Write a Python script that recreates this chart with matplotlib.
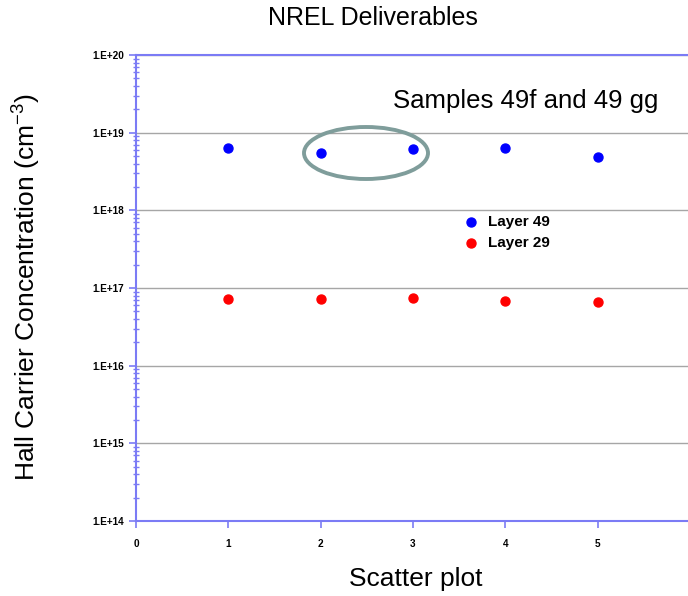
import numpy as np
import matplotlib.pyplot as plt
from matplotlib.patches import Ellipse
from matplotlib.ticker import LogLocator

plt.rcParams['font.family'] = ['Liberation Sans', 'DejaVu Sans']
plt.rcParams['mathtext.fontset'] = 'custom'
plt.rcParams['mathtext.rm'] = 'Liberation Sans'
plt.rcParams['mathtext.default'] = 'regular'

samples = [1, 2, 3, 4, 5]
layer49 = [6.4e18, 5.4e18, 6.2e18, 6.4e18, 4.9e18]
layer29 = [7.2e16, 7.2e16, 7.4e16, 6.8e16, 6.6e16]
ytick_vals = [1e14, 1e15, 1e16, 1e17, 1e18, 1e19, 1e20]
ytick_labels = ['1.E+14', '1.E+15', '1.E+16', '1.E+17', '1.E+18', '1.E+19', '1.E+20']

W, H = 688, 596
fig = plt.figure(figsize=(6.88, 5.96), dpi=100)
ax = fig.add_axes([136/W, 75/H, 554/W, 466/H])

spine_c = '#7b7bf5'
ax.set_yscale('log')
ax.set_ylim(1e14, 1e20)
ax.set_xlim(0, 6)
ax.yaxis.grid(True, which='major', color='#a6a6a6', lw=1.0)
ax.set_axisbelow(True)

ax.scatter(samples, layer49, s=42, color='#0000ff', zorder=3, label='Layer 49')
ax.scatter(samples, layer29, s=42, color='#ff0000', zorder=3, label='Layer 29')

ax.set_yticks(ytick_vals)
ax.set_yticklabels(ytick_labels)
ax.yaxis.set_minor_locator(LogLocator(base=10, subs=np.arange(2, 10)))
ax.yaxis.set_minor_formatter(plt.NullFormatter())
ax.set_xticks(range(7))

for s in ['top', 'right']:
    ax.spines[s].set_visible(False)
for s in ['left', 'bottom']:
    ax.spines[s].set_color(spine_c)
    ax.spines[s].set_linewidth(1.5)
ax.tick_params(axis='both', which='major', colors=spine_c, direction='out', length=5, width=1.2,
               labelsize=7.2, labelcolor='#000000')
ax.tick_params(axis='y', which='minor', colors=spine_c, direction='inout', length=4, width=1)
for lab in ax.get_xticklabels() + ax.get_yticklabels():
    lab.set_fontweight('bold')
ax.tick_params(axis='x', pad=8)

# top border line
ax.plot([0, 6], [1e20, 1e20], color=spine_c, lw=1.5, clip_on=False, zorder=4)

fig.text(373/W, 1 - 18/H, 'NREL Deliverables', ha='center', va='center', fontsize=18)
fig.text(416/W, 1 - 579/H, 'Scatter plot', ha='center', va='center', fontsize=19)
fig.text(27/W, 1 - 287/H, 'Hall Carrier Concentration (cm$^{-3}$)', rotation=90,
         ha='center', va='center', fontsize=19)

ax.text((526 - 136)/554, 1 - (101 - 55)/466, 'Samples 49f and 49 gg', transform=ax.transAxes,
        ha='center', va='center', fontsize=18.5)
ax.add_patch(Ellipse(((366 - 136)/554, (521 - 153)/466), 124/554, 52/466, transform=ax.transAxes,
                     fill=False, edgecolor='#7f9d9b', lw=2.8, zorder=4))

leg = ax.legend(loc='upper left', bbox_to_anchor=(318/554, 1 - (204 - 55)/466), frameon=True,
                handletextpad=0.7, handlelength=0.8, borderpad=0.2, labelspacing=0.45,
                prop={'weight': 'bold', 'size': 11})
leg.get_frame().set_edgecolor('none')
leg.get_frame().set_facecolor('white')
leg.get_frame().set_alpha(1)

fig.savefig('out.png', dpi=100)
